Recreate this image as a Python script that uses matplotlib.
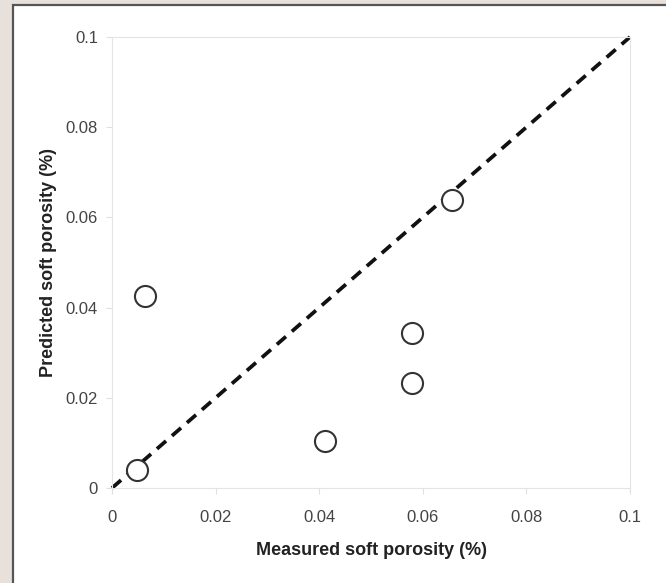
import matplotlib
matplotlib.use("Agg")
import matplotlib.pyplot as plt
from matplotlib.patches import Rectangle

measured = [0.0064, 0.0048, 0.0411, 0.0579, 0.0579, 0.0656]
predicted = [0.0426, 0.0040, 0.0104, 0.0344, 0.0233, 0.0639]
ticks = [0, 0.02, 0.04, 0.06, 0.08, 0.1]
tick_labels = ["0", "0.02", "0.04", "0.06", "0.08", "0.1"]
line_x = [0, 0.1]
line_y = [0, 0.1]

plt.rcParams['font.family'] = ['Liberation Sans', 'DejaVu Sans']

fig = plt.figure(figsize=(6.66, 5.83), dpi=100)
fig.patch.set_facecolor('#e8e1db')

# white inner panel with dark border on top and left
x0 = 13 / 666
y1 = 1 - 5 / 583
panel = Rectangle((x0, -0.1), 1.2, y1 + 0.1, transform=fig.transFigure,
                  facecolor='white', edgecolor='#555555', linewidth=1.6, zorder=-5)
fig.patches.append(panel)

ax = fig.add_axes([112 / 666, 1 - 488 / 583, (630 - 112) / 666, (488 - 37) / 583])
ax.set_facecolor('white')
ax.set_zorder(1)

ax.plot(line_x, line_y, linestyle=(0, (3.2, 2.1)), color='#111111', linewidth=2.7,
        zorder=2, clip_on=False)
ax.scatter(measured, predicted, s=230, facecolors='white', edgecolors='#333333',
           linewidths=1.5, zorder=3, clip_on=False)

ax.set_xlim(0, 0.1)
ax.set_ylim(0, 0.1)
ax.set_xticks(ticks)
ax.set_xticklabels(tick_labels)
ax.set_yticks(ticks)
ax.set_yticklabels(tick_labels)

for s in ax.spines.values():
    s.set_color('#e4e4e4')
    s.set_linewidth(0.8)

ax.tick_params(axis='both', colors='#e0e0e0', labelcolor='#444444', labelsize=12,
               length=4, width=0.8, direction='out')
ax.tick_params(axis='x', pad=12)
ax.tick_params(axis='y', pad=6)

ax.set_xlabel('Measured soft porosity (%)', fontsize=13, fontweight='bold',
              color='#222222', labelpad=12)
ax.set_ylabel('Predicted soft porosity (%)', fontsize=13, fontweight='bold',
              color='#222222', labelpad=6)

fig.savefig('out.png', dpi=100, facecolor=fig.get_facecolor())
